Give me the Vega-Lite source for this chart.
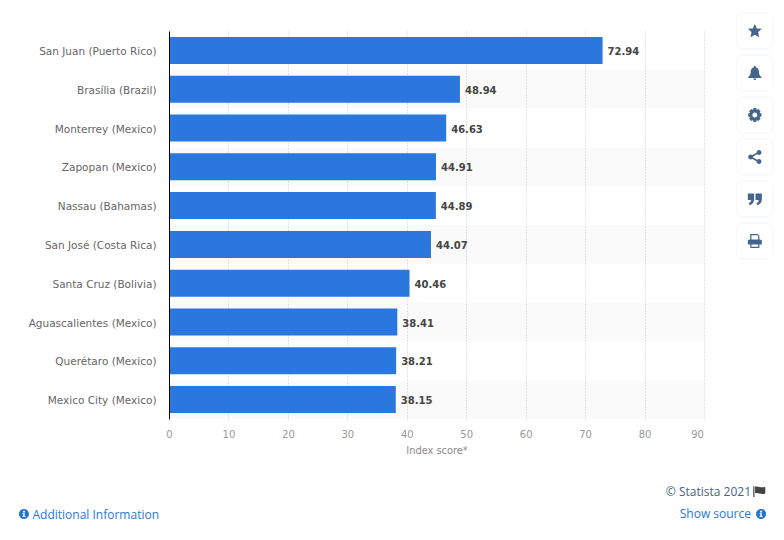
{
  "$schema": "https://vega.github.io/schema/vega-lite/v6.json",
  "width": 535,
  "height": 388,
  "autosize": {"type": "none"},
  "padding": {"left": 169, "top": 31, "right": 80, "bottom": 121},
  "background": "white",
  "view": {"stroke": null},
  "title": {
    "text": "© Statista 2021\u00a0",
    "subtitle": "Show source",
    "orient": "bottom",
    "anchor": "end",
    "frame": "group",
    "dx": 47,
    "offset": -33,
    "font": "Open Sans",
    "fontSize": 12,
    "fontWeight": "normal",
    "color": "#4a6386",
    "subtitleFont": "Open Sans",
    "subtitleFontSize": 12,
    "subtitleColor": "#2b76dc",
    "subtitlePadding": 10
  },
  "datasets": {
    "cities": [
      {"rank": 1, "city": "San Juan (Puerto Rico)", "score": 72.94},
      {"rank": 2, "city": "Brasília (Brazil)", "score": 48.94},
      {"rank": 3, "city": "Monterrey (Mexico)", "score": 46.63},
      {"rank": 4, "city": "Zapopan (Mexico)", "score": 44.91},
      {"rank": 5, "city": "Nassau (Bahamas)", "score": 44.89},
      {"rank": 6, "city": "San José (Costa Rica)", "score": 44.07},
      {"rank": 7, "city": "Santa Cruz (Bolivia)", "score": 40.46},
      {"rank": 8, "city": "Aguascalientes (Mexico)", "score": 38.41},
      {"rank": 9, "city": "Querétaro (Mexico)", "score": 38.21},
      {"rank": 10, "city": "Mexico City (Mexico)", "score": 38.15}
    ],
    "actions": [
      {"action": "favourite"},
      {"action": "alert"},
      {"action": "settings"},
      {"action": "share"},
      {"action": "cite"},
      {"action": "print"}
    ]
  },
  "resolve": {"scale": {"y": "independent", "shape": "independent"}},
  "layer": [
    {
      "data": {"name": "cities"},
      "encoding": {
        "y": {
          "field": "city",
          "type": "nominal",
          "sort": null,
          "scale": {
            "domain": ["San Juan (Puerto Rico)", "Brasília (Brazil)", "Monterrey (Mexico)", "Zapopan (Mexico)", "Nassau (Bahamas)", "San José (Costa Rica)", "Santa Cruz (Bolivia)", "Aguascalientes (Mexico)", "Querétaro (Mexico)", "Mexico City (Mexico)"],
            "paddingInner": 0,
            "paddingOuter": 0
          },
          "axis": {
            "title": "Additional Information",
            "titleAngle": 0,
            "titleX": -137,
            "titleY": 490,
            "titleAlign": "left",
            "titleFont": "Open Sans",
            "titleFontSize": 12,
            "titleFontWeight": "normal",
            "titleColor": "#2b76dc",
            "domainColor": "#000000",
            "domainWidth": 1,
            "ticks": false,
            "labelPadding": 13,
            "labelOffset": 1.5,
            "labelFont": "DejaVu Sans",
            "labelFontSize": 10.5,
            "labelColor": "#666666",
            "grid": false,
            "zindex": 1
          }
        }
      },
      "layer": [
        {
          "transform": [{"filter": "datum.rank % 2 == 0"}],
          "mark": {"type": "rect", "fill": "#000000", "opacity": 0.02}
        },
        {
          "mark": {"type": "bar", "color": "#2a77dd", "height": 27},
          "encoding": {
            "x": {
              "field": "score",
              "type": "quantitative",
              "scale": {"domain": [0, 90], "nice": false},
              "axis": {
                "title": "Index score*",
                "titleFont": "DejaVu Sans",
                "titleFontSize": 9.8,
                "titleFontWeight": "normal",
                "titleColor": "#888888",
                "titlePadding": 6,
                "values": [0, 10, 20, 30, 40, 50, 60, 70, 80, 90],
                "labelFont": "DejaVu Sans",
                "labelFontSize": 10,
                "labelColor": "#999999",
                "labelPadding": 10,
                "labelFlush": false,
                "labelOffset": {"condition": {"test": "datum.value == 90", "value": -7}, "value": 0},
                "domain": false,
                "ticks": false,
                "grid": true,
                "gridColor": "#cccccc",
                "gridDash": [1, 2],
                "gridWidth": 1,
                "zindex": 0
              }
            }
          }
        },
        {
          "mark": {"type": "text", "align": "left", "dx": 5, "dy": 1.5, "font": "DejaVu Sans", "fontSize": 10, "fontWeight": "bold", "color": "#444444"},
          "encoding": {
            "x": {"field": "score", "type": "quantitative"},
            "text": {"field": "score", "type": "quantitative", "format": ".2f"}
          }
        }
      ]
    },
    {
      "data": {"name": "actions"},
      "encoding": {
        "x": {"datum": 98.55, "type": "quantitative"},
        "y": {
          "field": "action",
          "type": "nominal",
          "sort": null,
          "scale": {"type": "point", "domain": ["favourite", "alert", "settings", "share", "cite", "print"], "range": [0, 210], "padding": 0},
          "axis": null
        }
      },
      "layer": [
        {"mark": {"type": "rect", "width": 38, "height": 38, "cornerRadius": 8, "fill": "#f9fafb"}},
        {"mark": {"type": "rect", "width": 34, "height": 34, "cornerRadius": 4, "fill": "#ffffff"}},
        {
          "mark": {"type": "point", "filled": true, "opacity": 1, "size": 196, "color": "#44658d"},
          "encoding": {
            "shape": {
              "field": "action",
              "type": "nominal",
              "legend": null,
              "scale": {
                "domain": ["favourite", "alert", "settings", "share", "cite", "print"],
                "range": [
                  "M0,-1L0.29,-0.36L1,-0.31L0.47,0.16L0.62,0.9L0,0.53L-0.62,0.9L-0.47,0.16L-1,-0.31L-0.29,-0.36Z",
                  "M0,-1C0.1,-1 0.15,-0.92 0.14,-0.82C0.5,-0.72 0.6,-0.4 0.6,-0.1C0.6,0.3 0.75,0.45 0.95,0.6L0.95,0.7L-0.95,0.7L-0.95,0.6C-0.75,0.45 -0.6,0.3 -0.6,-0.1C-0.6,-0.4 -0.5,-0.72 -0.14,-0.82C-0.15,-0.92 -0.1,-1 0,-1ZM-0.2,0.78L0.2,0.78C0.2,0.92 0.1,1 0,1C-0.1,1 -0.2,0.92 -0.2,0.78Z",
                  "M-0.2,-1L0.2,-1L0.26,-0.72L0.5,-0.86L0.82,-0.55L0.68,-0.3L0.95,-0.2L0.95,0.2L0.68,0.3L0.82,0.55L0.5,0.86L0.26,0.72L0.2,1L-0.2,1L-0.26,0.72L-0.5,0.86L-0.82,0.55L-0.68,0.3L-0.95,0.2L-0.95,-0.2L-0.68,-0.3L-0.82,-0.55L-0.5,-0.86L-0.26,-0.72ZM0,-0.35C-0.2,-0.35 -0.35,-0.2 -0.35,0C-0.35,0.2 -0.2,0.35 0,0.35C0.2,0.35 0.35,0.2 0.35,0C0.35,-0.2 0.2,-0.35 0,-0.35Z",
                  "M0.6,-1A0.35,0.35 0 1,1 0.6,-0.3A0.35,0.35 0 1,1 0.6,-1ZM0.6,0.3A0.35,0.35 0 1,1 0.6,1A0.35,0.35 0 1,1 0.6,0.3ZM-0.6,-0.35A0.35,0.35 0 1,1 -0.6,0.35A0.35,0.35 0 1,1 -0.6,-0.35ZM-0.6,-0.13L0.5,-0.75L0.6,-0.55L-0.5,0.07ZM-0.6,0.13L-0.5,-0.07L0.6,0.55L0.5,0.75Z",
                  "M-1,-0.8L-0.1,-0.8L-0.1,0.05C-0.1,0.5 -0.4,0.8 -0.75,0.9L-0.85,0.6C-0.65,0.5 -0.55,0.4 -0.55,0.15L-1,0.15ZM0.1,-0.8L1,-0.8L1,0.05C1,0.5 0.7,0.8 0.35,0.9L0.25,0.6C0.45,0.5 0.55,0.4 0.55,0.15L0.1,0.15Z",
                  "M-0.65,-1L0.4,-1L0.65,-0.75L0.65,-0.25L1,-0.1L1,0.5L0.65,0.5L0.65,1L-0.65,1L-0.65,0.5L-1,0.5L-1,-0.1L-0.65,-0.25ZM-0.48,-0.83L-0.48,-0.2L0.48,-0.2L0.48,-0.83ZM-0.48,0.5L-0.48,0.83L0.48,0.83L0.48,0.5Z"
                ]
              }
            }
          }
        }
      ]
    },
    {
      "data": {"name": "actions"},
      "transform": [{"filter": "datum.action == 'favourite'"}],
      "mark": {"type": "point", "filled": true, "opacity": 1, "size": 100, "color": "#2273d2", "shape": "M0,-1A1,1 0 1,1 0,1A1,1 0 1,1 0,-1ZM-0.2,-0.65L-0.2,-0.3L0.2,-0.3L0.2,-0.65ZM-0.3,-0.15L-0.3,0.05L-0.15,0.05L-0.15,0.4L-0.3,0.4L-0.3,0.6L0.3,0.6L0.3,0.4L0.15,0.4L0.15,-0.15Z"},
      "encoding": {
        "x": {"datum": -24.4, "type": "quantitative"},
        "y": {"datum": 483, "type": "quantitative", "scale": {"domain": [0, 388], "range": [0, 388]}, "axis": null}
      }
    },
    {
      "data": {"name": "actions"},
      "transform": [{"filter": "datum.action == 'favourite'"}],
      "mark": {"type": "point", "filled": true, "opacity": 1, "size": 100, "color": "#2273d2", "shape": "M0,-1A1,1 0 1,1 0,1A1,1 0 1,1 0,-1ZM-0.2,-0.65L-0.2,-0.3L0.2,-0.3L0.2,-0.65ZM-0.3,-0.15L-0.3,0.05L-0.15,0.05L-0.15,0.4L-0.3,0.4L-0.3,0.6L0.3,0.6L0.3,0.4L0.15,0.4L0.15,-0.15Z"},
      "encoding": {
        "x": {"datum": 99.6, "type": "quantitative"},
        "y": {"datum": 483, "type": "quantitative", "scale": {"domain": [0, 388], "range": [0, 388]}, "axis": null}
      }
    },
    {
      "data": {"name": "actions"},
      "transform": [{"filter": "datum.action == 'favourite'"}],
      "mark": {"type": "point", "filled": true, "opacity": 1, "size": 144, "color": "#444444", "shape": "M-1,-0.8L-0.8,-0.8L-0.8,1L-1,1ZM-0.7,-0.7C-0.3,-0.95 0.3,-0.4 1,-0.7L1,0.4C0.3,0.7 -0.3,0.15 -0.7,0.4Z"},
      "encoding": {
        "x": {"datum": 99.3, "type": "quantitative"},
        "y": {"datum": 460, "type": "quantitative", "scale": {"domain": [0, 388], "range": [0, 388]}, "axis": null}
      }
    }
  ]
}
